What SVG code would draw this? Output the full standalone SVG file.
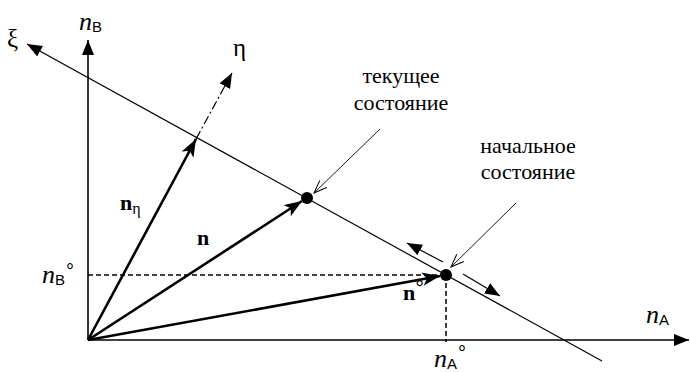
<svg xmlns="http://www.w3.org/2000/svg" width="690" height="372" viewBox="0 0 690 372">
<defs>
<style>
.ax{stroke:#000;stroke-width:1.6;fill:none}
.thin{stroke:#000;stroke-width:1.2;fill:none}
.vec{stroke:#000;stroke-width:2.6;fill:none}
.dash{stroke:#000;stroke-width:1.5;fill:none;stroke-dasharray:5,3}
.dd{stroke:#000;stroke-width:1.2;fill:none;stroke-dasharray:9,3,2,3}
.lead{stroke:#000;stroke-width:0.9;fill:none}
text{font-family:'Liberation Serif','Times New Roman','DejaVu Serif',serif}
.it{font-style:italic;font-size:26px}
.sub{font-family:'Liberation Sans',Arial,sans-serif;font-size:15px;font-style:normal;font-weight:normal}
.bd{font-weight:bold;font-size:22px}
.gr{font-size:25px}
.ru{font-size:22px;text-anchor:middle}
</style>
<marker id="tri" markerUnits="userSpaceOnUse" markerWidth="18" markerHeight="14" refX="15" refY="6" orient="auto" viewBox="0 0 18 12">
<path d="M0,0 L15,6 L0,12 Z" fill="#000"/>
</marker>
<marker id="barb" markerUnits="userSpaceOnUse" markerWidth="20" markerHeight="14" refX="16" refY="6" orient="auto" viewBox="0 0 18 12">
<path d="M0,0 L16,6 L0,12 L4,6 Z" fill="#000"/>
</marker>
<marker id="open" markerUnits="userSpaceOnUse" markerWidth="16" markerHeight="12" refX="13" refY="5" orient="auto" viewBox="0 0 16 10">
<path d="M0,0 L13,5 L0,10" fill="none" stroke="#000" stroke-width="1"/>
</marker>
</defs>
<rect width="690" height="372" fill="#fff"/>
<g id="connectors">
<line class="ax" x1="88" y1="340" x2="88" y2="40" marker-end="url(#tri)"/>
<line class="ax" x1="88" y1="340" x2="689" y2="340" marker-end="url(#tri)"/>
<line class="thin" x1="602" y1="361" x2="27" y2="44" marker-end="url(#tri)"/>
<line class="dd" x1="196" y1="139" x2="232" y2="73" marker-end="url(#tri)"/>
<line class="vec" x1="88" y1="340" x2="196" y2="139" marker-end="url(#barb)"/>
<line class="vec" x1="88" y1="340" x2="302" y2="201" marker-end="url(#barb)"/>
<line class="vec" x1="88" y1="340" x2="440" y2="276" marker-end="url(#barb)"/>
<line class="dash" x1="88" y1="275" x2="446" y2="275"/>
<line class="dash" x1="446" y1="275" x2="446" y2="342"/>
<line class="thin" x1="443" y1="262" x2="407" y2="243" marker-end="url(#tri)"/>
<line class="thin" x1="463" y1="274" x2="500" y2="296" marker-end="url(#tri)"/>
<line class="lead" x1="380" y1="129" x2="314" y2="193" marker-end="url(#open)"/>
<line class="lead" x1="516" y1="203" x2="451" y2="267" marker-end="url(#open)"/>
</g>
<g id="current-state">
<circle cx="307" cy="198" r="6"/>
<text class="ru" x="401" y="83">текущее</text>
<text class="ru" x="401" y="110">состояние</text>
</g>
<g id="initial-state">
<circle cx="446" cy="275" r="6"/>
<text class="ru" x="528" y="153">начальное</text>
<text class="ru" x="528" y="179">состояние</text>
</g>
<g id="labels">
<text x="79" y="30"><tspan class="it">n</tspan><tspan class="sub" dy="2">B</tspan></text>
<text x="42" y="283"><tspan class="it">n</tspan><tspan class="sub" dy="2">B</tspan><tspan class="sub" style="font-size:20px" dy="-7" dx="1">°</tspan></text>
<text x="646" y="323"><tspan class="it">n</tspan><tspan class="sub" dy="2">A</tspan></text>
<text x="434" y="367"><tspan class="it">n</tspan><tspan class="sub" dy="2">A</tspan><tspan class="sub" style="font-size:20px" dy="-9" dx="1">°</tspan></text>
<text class="gr" x="7" y="47">ξ</text>
<text class="gr" x="233" y="56">η</text>
<text x="120" y="210"><tspan class="bd">n</tspan><tspan style="font-size:16px" dy="4">η</tspan></text>
<text class="bd" x="197" y="245">n</text>
<text x="403" y="300"><tspan class="bd">n</tspan><tspan class="sub" style="font-size:22px" dy="-4">°</tspan></text>
</g>
</svg>
